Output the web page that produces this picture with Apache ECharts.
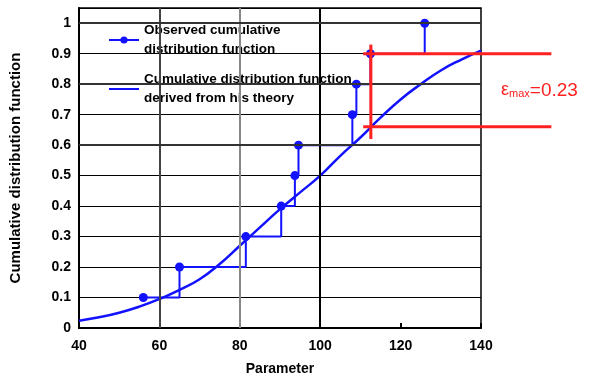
<!DOCTYPE html>
<html>
<head>
<meta charset="utf-8">
<script src="https://cdn.jsdelivr.net/npm/echarts@6/dist/echarts.min.js"></script>
<style>
  html, body { margin: 0; padding: 0; background: #fff; }
  #chart { width: 590px; height: 381px; }
</style>
</head>
<body>
<div id="chart"></div>
<script>
// observed cumulative distribution (step points)
var obsX = [56, 65, 81.5, 90.3, 93.7, 94.6, 108, 109, 112.5, 126];
var obsY = [0.1, 0.2, 0.3, 0.4, 0.5, 0.6, 0.7, 0.8, 0.9, 1.0];

// cumulative distribution from theory
var theoX = [40, 45, 50, 55, 60, 65, 70, 75, 80, 85, 90, 95, 100, 105, 110, 115, 120, 125, 130, 135, 140];
var theoY = [0.024, 0.035, 0.05, 0.07, 0.095, 0.125, 0.16, 0.21, 0.27, 0.33, 0.39, 0.445, 0.5, 0.565, 0.625, 0.69, 0.75, 0.8, 0.845, 0.88, 0.91];

// emax marker (goes past the right border)
var emaxHigh = 0.9;
var emaxLow = 0.66;
var emaxFrom = 110.7;
var emaxTo = 157.5;
var emaxX = 112.6;
var emaxSpan = [0.62, 0.93];
var emaxText = '=0.23';

// vertical grid lines (120 has none in the original)
var vGrid = [60, 80, 100];
var vGridColor = ['#444', '#888', '#000'];
var hMajor = [0.6, 0.8, 1.0];

var nameObs = 'Observed cumulative\ndistribution function';
var nameTheo = 'Cumulative distribution function\nderived from his theory';

var font = "'Liberation Sans', Arial, sans-serif";
var blue = '#1212ff';
var red = '#ff2020';

function pairs(xs, ys) {
  return xs.map(function (x, i) { return [x, ys[i]]; });
}

var chart = echarts.init(document.getElementById('chart'), null, { renderer: 'canvas' });

var option = {
  animation: false,
  backgroundColor: '#fff',
  textStyle: { fontFamily: font },
  grid: {
    left: 75, right: 109, top: 8, bottom: 52,
    show: true, borderColor: '#000', borderWidth: 1.5, backgroundColor: 'transparent'
  },
  legend: {
    left: 103, top: 16, orient: 'vertical',
    itemWidth: 30, itemHeight: 9, itemGap: 11,
    data: [nameObs, { name: nameTheo, itemStyle: { opacity: 0 } }],
    textStyle: { fontFamily: font, fontSize: 13.5, fontWeight: 'bold', color: '#000', lineHeight: 19 }
  },
  xAxis: {
    type: 'value', min: 40, max: 140, interval: 20,
    name: 'Parameter', nameLocation: 'middle', nameGap: 34,
    nameTextStyle: { fontFamily: font, fontSize: 14, fontWeight: 'bold', color: '#000' },
    axisLine: { lineStyle: { color: '#000', width: 2 } },
    axisTick: { inside: true, length: 5, lineStyle: { color: '#000', width: 2 } },
    axisLabel: { fontFamily: font, fontSize: 14, fontWeight: 'bold', color: '#000', margin: 11 },
    splitLine: { show: false }
  },
  yAxis: {
    type: 'value', min: 0, max: 1.05, interval: 0.1,
    name: 'Cumulative distribution function', nameLocation: 'middle', nameGap: 56,
    nameTextStyle: { fontFamily: font, fontSize: 15, fontWeight: 'bold', color: '#000' },
    axisLine: { lineStyle: { color: '#000', width: 2 } },
    axisTick: { inside: true, length: 4, lineStyle: { color: '#000' } },
    axisLabel: { fontFamily: font, fontSize: 14, fontWeight: 'bold', color: '#000', margin: 8, showMaxLabel: false },
    splitLine: { show: true, lineStyle: { color: '#000', width: 1 } }
  },
  series: [
    {
      name: 'grid-helper', type: 'line', data: [], silent: true, z: 1,
      markLine: {
        silent: true, symbol: 'none', animation: false,
        label: { show: false },
        data: vGrid.map(function (v, i) {
          return { xAxis: v, lineStyle: { color: vGridColor[i], width: 2, type: 'solid' } };
        }).concat(hMajor.map(function (v) {
          return { yAxis: v, lineStyle: { color: '#333', width: 2, type: 'solid' } };
        }))
      }
    },
    {
      name: nameTheo, type: 'line', data: pairs(theoX, theoY),
      smooth: true, symbol: 'none', z: 3,
      lineStyle: { color: blue, width: 2.5 }, itemStyle: { color: blue }
    },
    {
      name: nameObs, type: 'line', data: pairs(obsX, obsY),
      step: 'end', symbol: 'circle', symbolSize: 9, z: 4,
      lineStyle: { color: blue, width: 2 }, itemStyle: { color: blue }
    }
  ]
};

chart.setOption(option);

// the emax bracket runs outside the plot box, so place it through the grid's own scale
var toPx = function (x, y) { return chart.convertToPixel({ gridIndex: 0 }, [x, y]); };
var a = toPx(emaxFrom, emaxHigh), b = toPx(emaxTo, emaxHigh);
var c = toPx(emaxFrom, emaxLow), d = toPx(emaxTo, emaxLow);
var e = toPx(emaxX, emaxSpan[0]), f = toPx(emaxX, emaxSpan[1]);
var redLine = function (p, q) {
  return {
    type: 'line', z: 100, silent: true,
    shape: { x1: p[0], y1: p[1], x2: q[0], y2: q[1] },
    style: { stroke: red, lineWidth: 3 }
  };
};
chart.setOption({
  graphic: [
    redLine(a, b), redLine(c, d), redLine(e, f),
    {
      type: 'text', left: 501, top: 81, z: 100,
      style: {
        text: '{e|ε}{s|max}{v|' + emaxText + '}',
        rich: {
          e: { fontFamily: font, fontSize: 18, fill: red, color: red },
          s: { fontFamily: font, fontSize: 11, fill: red, color: red, padding: [7, 0, 0, 0] },
          v: { fontFamily: font, fontSize: 19, fill: red, color: red }
        }
      }
    }
  ]
});
</script>
</body>
</html>
